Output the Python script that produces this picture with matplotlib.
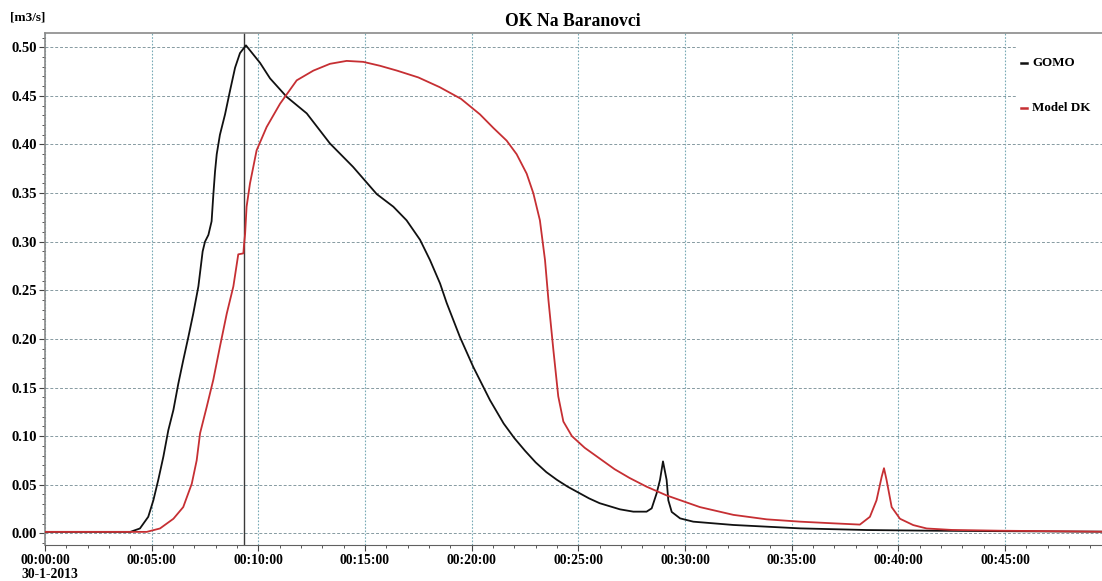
import numpy as np
import matplotlib
matplotlib.use("Agg")
import matplotlib.pyplot as plt
from matplotlib.ticker import MultipleLocator, FuncFormatter
from matplotlib.patches import Rectangle
from matplotlib.lines import Line2D

# discharge [m3/s] vs time since 00:00:00 (minutes)
t_gomo = [0, 4.0, 4.45, 4.84, 5.08, 5.31, 5.55, 5.78, 6.02, 6.25,
          6.48, 6.72, 6.95, 7.19, 7.39, 7.5, 7.66, 7.81, 7.89, 7.97,
          8.05, 8.2, 8.44, 8.67, 8.91, 9.14, 9.42, 10.08, 10.55, 11.33,
          12.27, 13.36, 14.44, 15.55, 16.33, 16.95, 17.58, 18.05, 18.52, 18.83,
          19.45, 20.08, 20.86, 21.5, 22.0, 22.5, 23.0, 23.5, 24.0, 24.5,
          25.0, 25.5, 26.0, 26.95, 27.58, 28.2, 28.44, 28.67, 28.83, 28.97,
          29.14, 29.22, 29.38, 29.77, 30.39, 32.27, 35.4, 38.52, 41.6, 45.0,
          49.6]
q_gomo = [0.0015, 0.0015, 0.005, 0.017, 0.034, 0.055, 0.079, 0.106, 0.127, 0.154,
          0.178, 0.202, 0.226, 0.254, 0.290, 0.300, 0.307, 0.321, 0.348, 0.372,
          0.390, 0.410, 0.431, 0.455, 0.479, 0.494, 0.502, 0.484, 0.468, 0.449,
          0.432, 0.401, 0.377, 0.349, 0.336, 0.322, 0.302, 0.281, 0.257, 0.237,
          0.202, 0.171, 0.137, 0.113, 0.098, 0.085, 0.073, 0.063, 0.055, 0.048,
          0.042, 0.036, 0.031, 0.0247, 0.0223, 0.0223, 0.0257, 0.041, 0.055, 0.074,
          0.055, 0.034, 0.022, 0.0154, 0.012, 0.0086, 0.0051, 0.0034, 0.0027, 0.0022,
          0.0017]

t_dk = [0, 4.77, 5.39, 6.02, 6.48, 6.88, 7.11, 7.27, 7.58, 7.89,
        8.2, 8.52, 8.83, 9.06, 9.3, 9.33, 9.38, 9.45, 9.61, 9.92,
        10.39, 11.02, 11.8, 12.58, 13.36, 14.14, 14.92, 15.7, 16.5, 17.5,
        18.5, 19.5, 20.39, 21.02, 21.64, 22.11, 22.58, 22.89, 23.2, 23.44,
        23.6, 23.83, 24.06, 24.3, 24.7, 25.3, 26.0, 26.7, 27.4, 28.2,
        29.14, 30.7, 32.27, 33.83, 35.4, 36.95, 38.2, 38.67, 38.98, 39.22,
        39.33, 39.45, 39.69, 40.08, 40.7, 41.33, 42.5, 44.77, 49.6]
q_dk = [0.0015, 0.0015, 0.005, 0.015, 0.027, 0.051, 0.075, 0.103, 0.130, 0.158,
        0.192, 0.226, 0.254, 0.287, 0.288, 0.297, 0.308, 0.336, 0.360, 0.394,
        0.418, 0.442, 0.466, 0.476, 0.483, 0.486, 0.485, 0.481, 0.476, 0.469,
        0.459, 0.447, 0.431, 0.417, 0.404, 0.390, 0.370, 0.350, 0.322, 0.281,
        0.240, 0.189, 0.141, 0.115, 0.100, 0.088, 0.077, 0.066, 0.057, 0.048,
        0.039, 0.027, 0.019, 0.0144, 0.012, 0.0103, 0.009, 0.017, 0.034, 0.058,
        0.067, 0.055, 0.027, 0.015, 0.0085, 0.005, 0.0035, 0.0027, 0.0017]

cursor_min = 9.35
series_names = ["GOMO", "Model DK"]
series_colors = ["#111111", "#c62f33"]
title = "OK Na Baranovci"
unit = "[m3/s]"
start_date = "30-1-2013"

plt.rcParams['font.family'] = ['Liberation Serif', 'DejaVu Serif']
plt.rcParams['font.weight'] = 'bold'

W, H = 1102, 581
fig = plt.figure(figsize=(W / 100, H / 100), dpi=100)
ax = fig.add_axes([45 / W, 1 - 545 / H, 1 - 45 / W, (545 - 33) / H])

ax.plot(t_gomo, q_gomo, color=series_colors[0], lw=1.3, zorder=3)
ax.plot(t_dk, q_dk, color=series_colors[1], lw=1.3, zorder=3)
ax.axvline(cursor_min, color="#3a3a3a", lw=1.0, zorder=2)

ax.set_xlim(0, 49.55)
ax.set_ylim(-0.012, 0.5147)

ax.xaxis.set_major_locator(MultipleLocator(5))
ax.xaxis.set_minor_locator(MultipleLocator(1))
ax.yaxis.set_major_locator(MultipleLocator(0.05))
ax.yaxis.set_minor_locator(MultipleLocator(0.01))

def hms(m, pos):
    m = int(round(m))
    return "%02d:%02d:00" % (m // 60, m % 60)

ax.xaxis.set_major_formatter(FuncFormatter(hms))
ax.yaxis.set_major_formatter(FuncFormatter(lambda v, p: "%.2f" % v))

ax.tick_params(axis="both", which="major", length=4, width=0.8, color="#444444",
               labelsize=10.5, pad=1.5)
ax.tick_params(axis="both", which="minor", length=2.5, width=0.7, color="#555555")
ax.tick_params(axis="x", labelsize=9.8, pad=2.5)

# grid: dotted verticals, dashed horizontals
ax.set_axisbelow(True)
ax.xaxis.grid(True, which="major", color="#78aab6", linestyle=(0, (1.5, 1.5)), lw=0.8)
ax.yaxis.grid(True, which="major", color="#869aa1", linestyle=(0, (3, 2)), lw=0.7)

for side in ["left", "top"]:
    ax.spines[side].set_color("#8a8a8a")
    ax.spines[side].set_linewidth(1.2)
ax.spines["bottom"].set_color("#606060")
ax.spines["bottom"].set_linewidth(0.8)
ax.spines["right"].set_visible(False)

# white legend panel in the upper right
ax.add_patch(Rectangle(((1016 - 45) / 1057, (545 - 125) / 512), 1.0, 1.0,
                       transform=ax.transAxes, facecolor="white",
                       edgecolor="none", zorder=1))

for i, name in enumerate(series_names):
    y = 1 - (63 + 45 * i) / H
    fig.add_artist(Line2D([1021 / W, 1027 / W], [y, y], color=series_colors[i],
                          lw=1.8, transform=fig.transFigure))
    fig.text(1032 / W, y, name, color="black", fontsize=9.4,
             fontweight="bold", va="center", ha="left")

fig.text(573 / W, 1 - 21 / H, title, fontsize=12.7, fontweight="bold",
         ha="center", va="center")
fig.text(10 / W, 1 - 17 / H, unit, fontsize=9.5, fontweight="bold",
         ha="left", va="center")
fig.text(21 / W, 1 - 575 / H, start_date, fontsize=9.8, fontweight="bold",
         ha="left", va="center")

fig.savefig("out.png", dpi=100)
